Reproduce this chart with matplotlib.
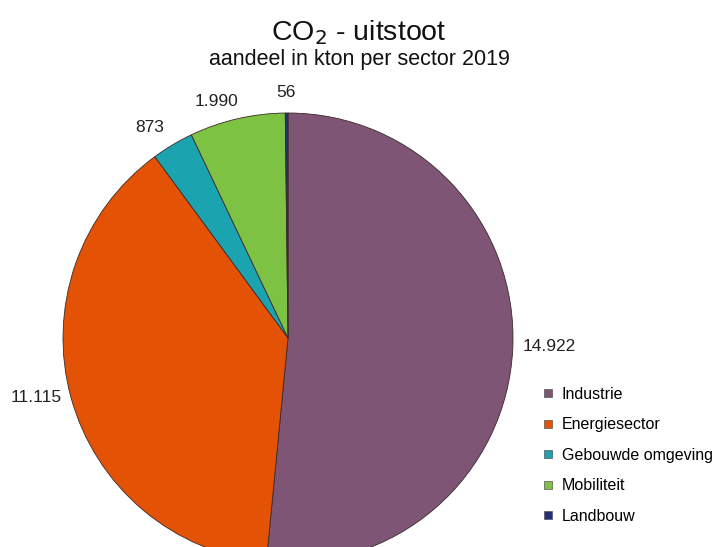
import numpy as np
import matplotlib.pyplot as plt
from matplotlib.lines import Line2D

plt.rcParams['font.family'] = ['Liberation Sans', 'DejaVu Sans']

sectors = ['Industrie', 'Energiesector', 'Gebouwde omgeving', 'Mobiliteit', 'Landbouw']
kton = [14922, 11115, 873, 1990, 56]
labels = ['14.922', '11.115', '873', '1.990', '56']
colors = ['#7E5574', '#E35205', '#1BA3B0', '#7DC242', '#22307A']

W, H = 718, 547
fig = plt.figure(figsize=(W / 100, H / 100), dpi=100)

# pie axes: centre (288, 338) px, radius 225 px
cx, cy, r = 288, 338, 225
ax = fig.add_axes([(cx - r) / W, (H - cy - r) / H, 2 * r / W, 2 * r / H])
wedges, _ = ax.pie(kton, colors=colors, startangle=90, counterclock=False,
                   radius=1, labels=None,
                   wedgeprops=dict(edgecolor='#3a2a2a', linewidth=0.6))
ax.set_xlim(-1, 1)
ax.set_ylim(-1, 1)
ax.set_aspect('equal')
ax.axis('off')
for w in wedges:
    w.set_clip_on(False)

# value labels outside the wedges (radius and small angular nudge per label)
dist = [1.16, 1.15, 1.12, 1.10, 1.09]
nudge = [1.0, -2.0, 2.4, 3.8, 0.2]
for w, lab, d, dn in zip(wedges, labels, dist, nudge):
    ang = np.deg2rad((w.theta1 + w.theta2) / 2 + dn)
    ax.text(d * np.cos(ang), d * np.sin(ang), lab, ha='center', va='center',
            fontsize=12.5, color='#222222', clip_on=False)

fig.text(0.5, 1 - 33 / H, r'CO$_2$ - uitstoot', ha='center', va='center',
         fontsize=20.5, color='#111111')
fig.text(0.5, 1 - 59 / H, 'aandeel in kton per sector 2019', ha='center',
         va='center', fontsize=15.5, color='#111111')

handles = [Line2D([], [], marker='s', linestyle='none', markersize=6,
                  markerfacecolor=c, markeredgecolor='#555555', markeredgewidth=0.5)
           for c in colors]
fig.legend(handles, sectors, loc='upper left',
           bbox_to_anchor=(532 / W, 1 - 379 / H), frameon=False,
           fontsize=11.5, labelspacing=0.97, handletextpad=0.35,
           handlelength=1.0, borderpad=0)

fig.savefig('out.png', dpi=100)
